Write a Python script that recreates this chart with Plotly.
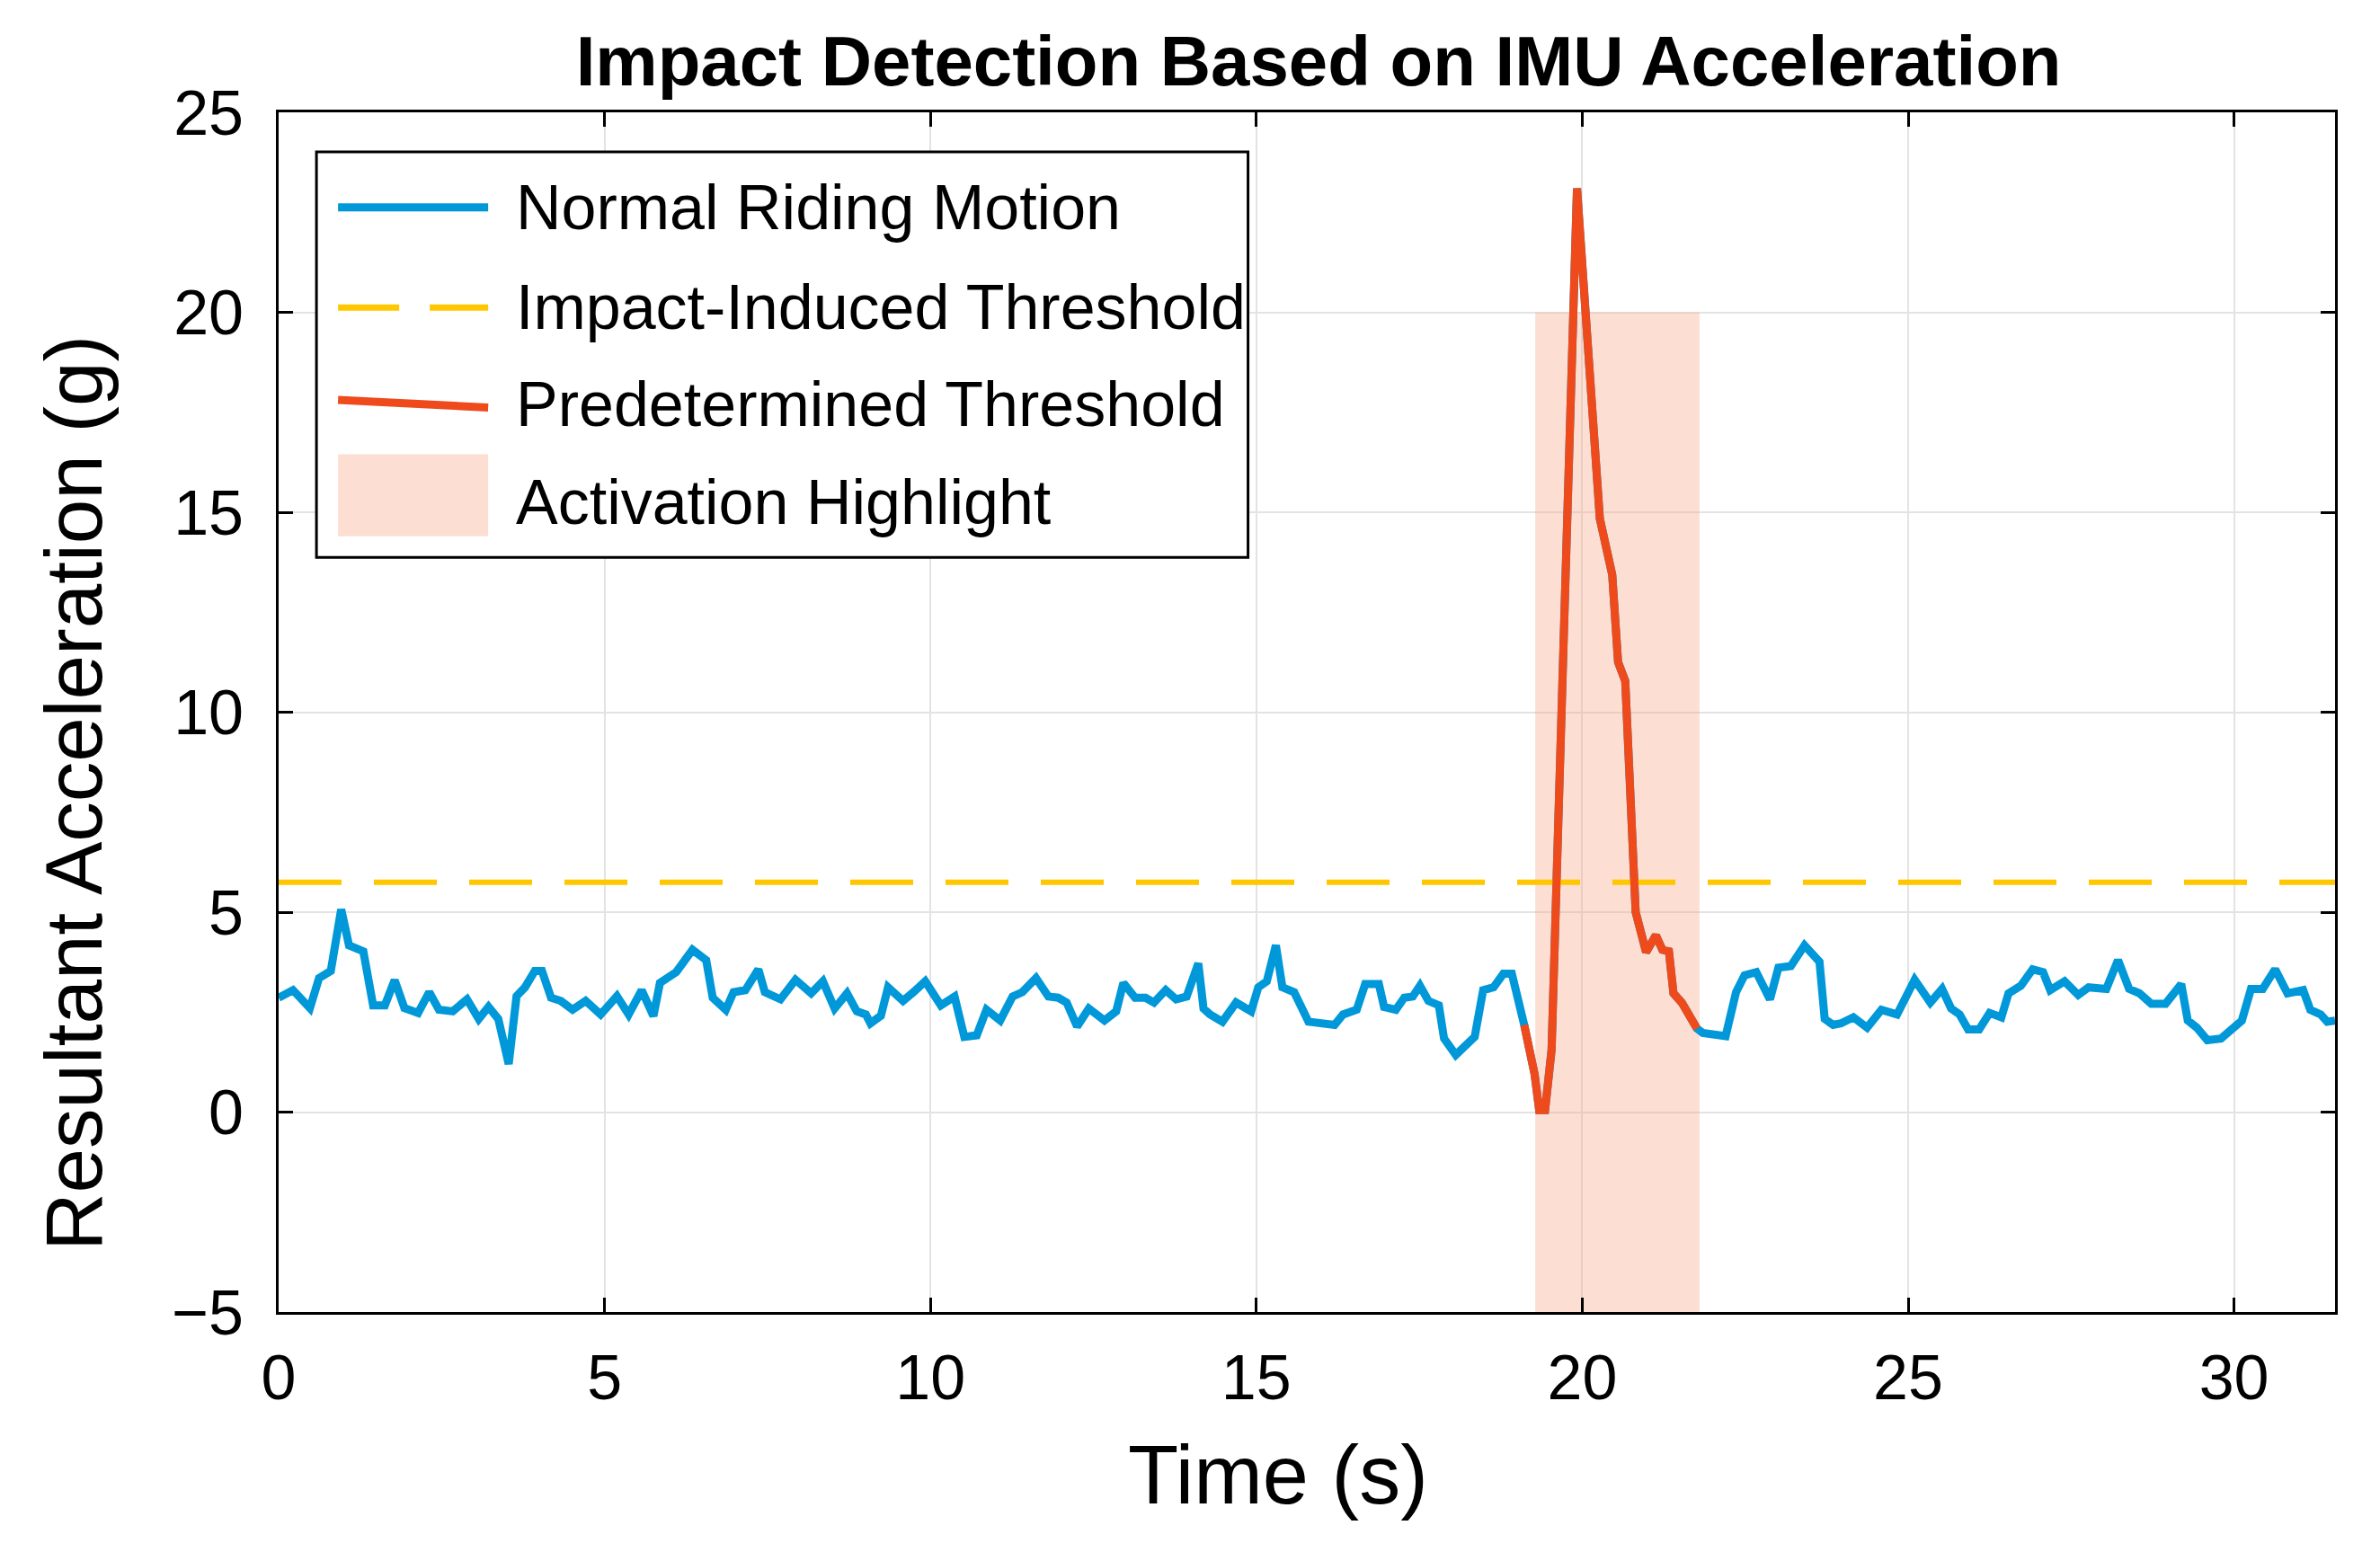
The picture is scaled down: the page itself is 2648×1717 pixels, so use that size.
import plotly.graph_objects as go

# normal riding signal (s, g)
time_s = [
    0.00, 0.22, 0.48, 0.62, 0.80, 0.96, 1.08, 1.30, 1.45, 1.63, 1.78, 1.93, 2.14, 2.31, 2.46,
    2.67, 2.89, 3.07, 3.22, 3.37, 3.53, 3.65, 3.78, 3.93, 4.04, 4.18, 4.33, 4.51, 4.71, 4.94,
    5.19, 5.37, 5.57, 5.75, 5.85, 6.10, 6.35, 6.56, 6.66, 6.86, 6.98, 7.16, 7.36, 7.46, 7.70,
    7.93, 8.17, 8.35, 8.53, 8.72, 8.87, 9.01, 9.08, 9.24, 9.35, 9.58, 9.74, 9.92, 10.16, 10.37,
    10.52, 10.71, 10.86, 11.07, 11.26, 11.41, 11.62, 11.81, 11.96, 12.09, 12.25, 12.43, 12.67,
    12.85, 12.96, 13.14, 13.30, 13.43, 13.61, 13.77, 13.93, 14.11, 14.19, 14.29, 14.48, 14.69,
    14.92, 15.03, 15.16, 15.30, 15.40, 15.58, 15.80, 16.20, 16.33, 16.54, 16.67, 16.88, 16.96,
    17.14, 17.27, 17.40, 17.51, 17.64, 17.80, 17.88, 18.06, 18.35, 18.48, 18.64, 18.79, 18.92,
    19.11, 19.27, 19.34, 19.43, 19.53, 19.92, 20.27, 20.46, 20.55, 20.66, 20.82, 20.98, 21.13,
    21.23, 21.33, 21.40, 21.53, 21.76, 21.85, 22.20, 22.36, 22.49, 22.67, 22.88, 23.01, 23.20,
    23.41, 23.64, 23.72, 23.85, 23.97, 24.16, 24.37, 24.59, 24.83, 25.10, 25.34, 25.52, 25.66,
    25.79, 25.92, 26.09, 26.25, 26.43, 26.54, 26.73, 26.91, 27.07, 27.18, 27.40, 27.61, 27.77,
    28.04, 28.22, 28.39, 28.55, 28.73, 28.95, 29.19, 29.29, 29.43, 29.59, 29.80, 30.12, 30.26,
    30.44, 30.63, 30.82, 31.06, 31.17, 31.33, 31.43, 31.55,
]
accel_g = [
    2.86, 3.05, 2.60, 3.35, 3.53, 5.07, 4.17, 4.02, 2.67, 2.67, 3.30, 2.60, 2.48, 3.00, 2.56,
    2.52, 2.82, 2.33, 2.63, 2.33, 1.20, 2.90, 3.12, 3.53, 3.53, 2.86, 2.78, 2.56, 2.78, 2.44,
    2.90, 2.44, 3.05, 2.40, 3.23, 3.50, 4.06, 3.80, 2.86, 2.56, 3.00, 3.05, 3.57, 3.00, 2.82,
    3.31, 2.97, 3.27, 2.59, 2.97, 2.52, 2.44, 2.22, 2.41, 3.12, 2.78, 3.00, 3.27, 2.67, 2.89,
    1.88, 1.92, 2.56, 2.29, 2.89, 3.00, 3.35, 2.89, 2.86, 2.74, 2.14, 2.59, 2.29,
    2.52, 3.23, 2.86, 2.86, 2.74, 3.05, 2.82, 2.89, 3.72, 2.59, 2.44, 2.26, 2.74,
    2.52, 3.12, 3.27, 4.17, 3.12, 3.00, 2.26, 2.18, 2.44, 2.56, 3.20, 3.20, 2.63,
    2.56, 2.86, 2.89, 3.16, 2.78, 2.67, 1.84, 1.43, 1.88, 3.05, 3.12, 3.46, 3.46,
    2.18, 0.94, 0.05, 0.05, 1.56, 23.10, 14.84, 13.44, 11.25, 10.78, 5.00, 4.00, 4.42,
    4.06, 4.02, 2.97, 2.73, 2.09, 1.98, 1.90, 3.00, 3.42, 3.50, 2.82, 3.61, 3.65,
    4.17, 3.76, 2.33, 2.18, 2.22, 2.37, 2.11, 2.56, 2.44, 3.31, 2.74, 3.08, 2.59,
    2.44, 2.07, 2.07, 2.48, 2.37, 2.97, 3.16, 3.57, 3.50, 3.05, 3.27, 2.93, 3.12,
    3.08, 3.80, 3.08, 2.97, 2.71, 2.71, 3.20, 2.29, 2.11, 1.80, 1.84, 2.29, 3.08,
    3.08, 3.57, 2.97, 3.05, 2.56, 2.44, 2.26, 2.29,
]

# impact segment drawn in red on top of the signal
impact_time = [19.11, 19.27, 19.34, 19.43, 19.53, 19.92, 20.27, 20.46, 20.55, 20.66, 20.82,
               20.98, 21.13, 21.23, 21.33, 21.40, 21.53, 21.76]
impact_acc = [2.18, 0.94, 0.05, 0.05, 1.56, 23.10, 14.84, 13.44, 11.25, 10.78, 5.00,
              4.00, 4.42, 4.06, 4.02, 2.97, 2.73, 2.09]

threshold_g = 5.75
highlight_t = [19.28, 21.8]
highlight_g = [-5, 20]
x_range = [0, 31.55]
y_range = [-5, 25]

legend_labels = ["Normal Riding Motion", "Impact-Induced Threshold",
                 "Predetermined Threshold", "Activation Highlight"]

BLUE = "#0098D8"
RED = "#EE4A1C"
YELLOW = "#FFC700"
SHADE = "rgba(248,160,130,0.35)"
FONT = "Liberation Sans, Arial, sans-serif"

fig = go.Figure()

# activation window
fig.add_trace(go.Scatter(
    x=[highlight_t[0], highlight_t[1], highlight_t[1], highlight_t[0], highlight_t[0]],
    y=[highlight_g[0], highlight_g[0], highlight_g[1], highlight_g[1], highlight_g[0]],
    mode="lines", fill="toself", fillcolor=SHADE, line=dict(width=0),
    name=legend_labels[3], showlegend=False, hoverinfo="skip",
))
fig.add_trace(go.Scatter(
    x=time_s, y=accel_g, mode="lines", name=legend_labels[0],
    line=dict(color=BLUE, width=9), showlegend=False,
))
fig.add_trace(go.Scatter(
    x=x_range, y=[threshold_g, threshold_g], mode="lines", name=legend_labels[1],
    line=dict(color=YELLOW, width=6, dash="70px,36px"), showlegend=False,
))
fig.add_trace(go.Scatter(
    x=impact_time, y=impact_acc, mode="lines", name=legend_labels[2],
    line=dict(color=RED, width=9), showlegend=False,
))

# legend drawn by hand so the swatches match the original (paper coords)
sw_x0, sw_x1, txt_x = 0.0289, 0.1019, 0.1146
row_y = [0.9207, 0.8373, 0.7565, 0.6746]
shapes = [
    dict(type="rect", xref="paper", yref="paper", x0=0.0184, x1=0.4714, y0=0.629, y1=0.9671,
         fillcolor="white", line=dict(color="black", width=3), layer="above"),
    dict(type="line", xref="paper", yref="paper", x0=sw_x0, x1=sw_x1, y0=row_y[0], y1=row_y[0],
         line=dict(color=BLUE, width=9), layer="above"),
    dict(type="line", xref="paper", yref="paper", x0=sw_x0, x1=sw_x1, y0=row_y[1], y1=row_y[1],
         line=dict(color=YELLOW, width=7, dash="68px,34px"), layer="above"),
    dict(type="line", xref="paper", yref="paper", x0=sw_x0, x1=sw_x1, y0=0.7603, y1=0.7539,
         line=dict(color=RED, width=9), layer="above"),
    dict(type="rect", xref="paper", yref="paper", x0=sw_x0, x1=sw_x1, y0=0.6466, y1=0.715,
         fillcolor=SHADE, line=dict(width=0), layer="above"),
]
annotations = [
    dict(text=lab, xref="paper", yref="paper", x=txt_x, y=yy, xanchor="left", yanchor="middle",
         showarrow=False, font=dict(family=FONT, size=70, color="black"))
    for lab, yy in zip(legend_labels, row_y)
]
# axis titles, placed where the original has them
annotations.append(dict(
    text="Time (s)", xref="paper", yref="paper", x=0.4862, y=-0.1354,
    xanchor="center", yanchor="middle", showarrow=False,
    font=dict(family=FONT, size=92, color="black"),
))
annotations.append(dict(
    text="Resultant Acceleration (g)", xref="paper", yref="paper", x=-0.0997, y=0.433,
    xanchor="center", yanchor="middle", textangle=-90, showarrow=False,
    font=dict(family=FONT, size=89, color="black"),
))

axis_common = dict(
    showline=True, linecolor="black", linewidth=3, mirror="ticks",
    ticks="inside", ticklen=16, tickwidth=3, tickcolor="black",
    showgrid=True, gridcolor="#E3E3E3", gridwidth=2, zeroline=False,
    tickfont=dict(family=FONT, size=70, color="black"),
)

fig.update_layout(
    width=2648, height=1717,
    paper_bgcolor="white", plot_bgcolor="white",
    margin=dict(l=302, r=58, t=117, b=265),
    showlegend=False,
    title=dict(
        text="<b>Impact Detection Based on IMU Acceleration</b>",
        xref="container", x=0.551, xanchor="center", y=0.965, yanchor="middle",
        font=dict(family=FONT, size=78, color="black"),
    ),
    xaxis=dict(
        range=x_range, tickvals=[0, 5, 10, 15, 20, 25, 30], ticklabelstandoff=10,
        **axis_common,
    ),
    yaxis=dict(
        range=y_range, tickvals=[-5, 0, 5, 10, 15, 20, 25], ticklabelstandoff=22,
        **axis_common,
    ),
    shapes=shapes,
    annotations=annotations,
)

fig.write_html("out.html")
